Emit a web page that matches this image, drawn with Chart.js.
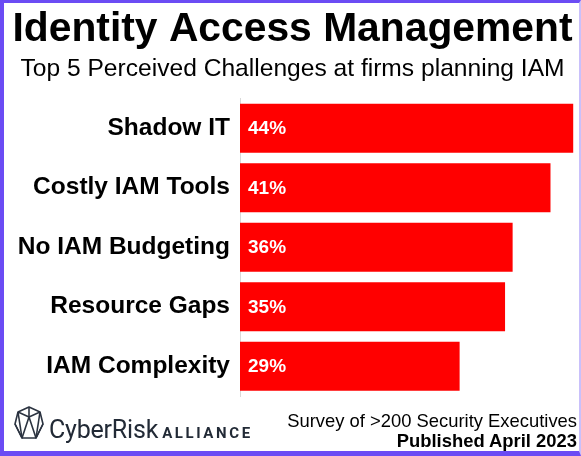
<!DOCTYPE html>
<html>
<head>
<meta charset="utf-8">
<script src="https://cdn.jsdelivr.net/npm/chart.js@4.4.0/dist/chart.umd.min.js"></script>
<style>
  html, body { margin: 0; padding: 0; background: #fff; }
  #wrap { position: relative; width: 581px; height: 456px; overflow: hidden; }
  #frame {
    position: absolute; left: 0; top: 0; width: 581px; height: 456px; box-sizing: border-box;
    border-left: 4px solid #6b4cf4; border-top: 3px solid #6b4cf4;
    border-bottom: 5px solid #6b4cf4; border-right: 2px solid #c9c0fb;
    pointer-events: none;
  }
  #logo { position: absolute; left: 14px; top: 405px; }
  #brand {
    position: absolute; left: 49px; top: 415px; color: #222a36;
    font-family: Roboto, sans-serif; white-space: nowrap;
  }
  #brand .cr { font-size: 25px; letter-spacing: -0.2px; }
  #brand .al { font-size: 15px; font-weight: bold; letter-spacing: 2.6px; margin-left: 4px; }
  #note {
    position: absolute; right: 4px; top: 411px; text-align: right; color: #000;
    font-family: Arial, "Liberation Sans", sans-serif; font-size: 18.4px; line-height: 20px;
  }
  #note b { font-weight: bold; }
</style>
</head>
<body>
<div id="wrap">
  <canvas id="chart" width="581" height="456"></canvas>
  <svg id="logo" width="30" height="38" viewBox="0 0 30 38">
    <g fill="none" stroke="#2b3340" stroke-width="1.6" stroke-linejoin="round">
      <polygon points="15,2 26,7 29,19 22,33 8,33 1,19 4,7"/>
      <polyline points="4,7 15,12 26,7"/>
      <line x1="15" y1="2" x2="15" y2="12"/>
      <polyline points="1,19 8,33 15,12 22,33 29,19"/>
      <polyline points="4,7 8,33"/>
      <polyline points="26,7 22,33"/>
    </g>
  </svg>
  <div id="brand"><span class="cr">CyberRisk</span><span class="al">ALLIANCE</span></div>
  <div id="note">Survey of &gt;200 Security Executives<br><b>Published April 2023</b></div>
  <div id="frame"></div>
</div>
<script>
// data
const categories = ["Shadow IT", "Costly IAM Tools", "No IAM Budgeting", "Resource Gaps", "IAM Complexity"];
const shares = [44, 41, 36, 35, 29];
const shareLabels = ["44%", "41%", "36%", "35%", "29%"];

Chart.defaults.font.family = 'Arial, "Liberation Sans", sans-serif';
Chart.defaults.color = "#000";

// white % labels just inside the left end of each bar
const barLabels = {
  id: "barLabels",
  afterDatasetsDraw(chart) {
    const ctx = chart.ctx;
    const meta = chart.getDatasetMeta(0);
    ctx.save();
    ctx.fillStyle = "#fff";
    ctx.font = 'bold 19px Arial, "Liberation Sans", sans-serif';
    ctx.textAlign = "left";
    ctx.textBaseline = "middle";
    meta.data.forEach((bar, i) => {
      ctx.fillText(shareLabels[i], bar.base + 8, bar.y + 1);
    });
    ctx.restore();
  }
};

new Chart(document.getElementById("chart"), {
  type: "bar",
  data: {
    labels: categories,
    datasets: [{
      data: shares,
      backgroundColor: "#ff0000",
      borderWidth: 0,
      categoryPercentage: 1,
      barPercentage: 0.82
    }]
  },
  options: {
    indexAxis: "y",
    responsive: false,
    devicePixelRatio: 1,
    animation: false,
    layout: { padding: { left: 8, right: 4, bottom: 60, top: 0 } },
    plugins: {
      legend: { display: false },
      tooltip: { enabled: false },
      title: {
        display: true,
        text: "Identity Access Management",
        font: { size: 40.8, weight: "bold" },
        padding: { top: 5, bottom: 0 }
      },
      subtitle: {
        display: true,
        text: "Top 5 Perceived Challenges at firms planning IAM",
        font: { size: 24.6, weight: "normal" },
        color: "#000",
        padding: { top: 0, bottom: 15 }
      }
    },
    scales: {
      x: { display: false, min: 0, max: 44.5 },
      y: {
        grid: { display: false },
        border: { display: true, color: "#d9d9d9", width: 1 },
        ticks: { font: { size: 24.5, weight: "bold" }, color: "#000", padding: 2 },
        afterFit(scale) { scale.width = 232; }
      }
    }
  },
  plugins: [barLabels]
});
</script>
</body>
</html>
